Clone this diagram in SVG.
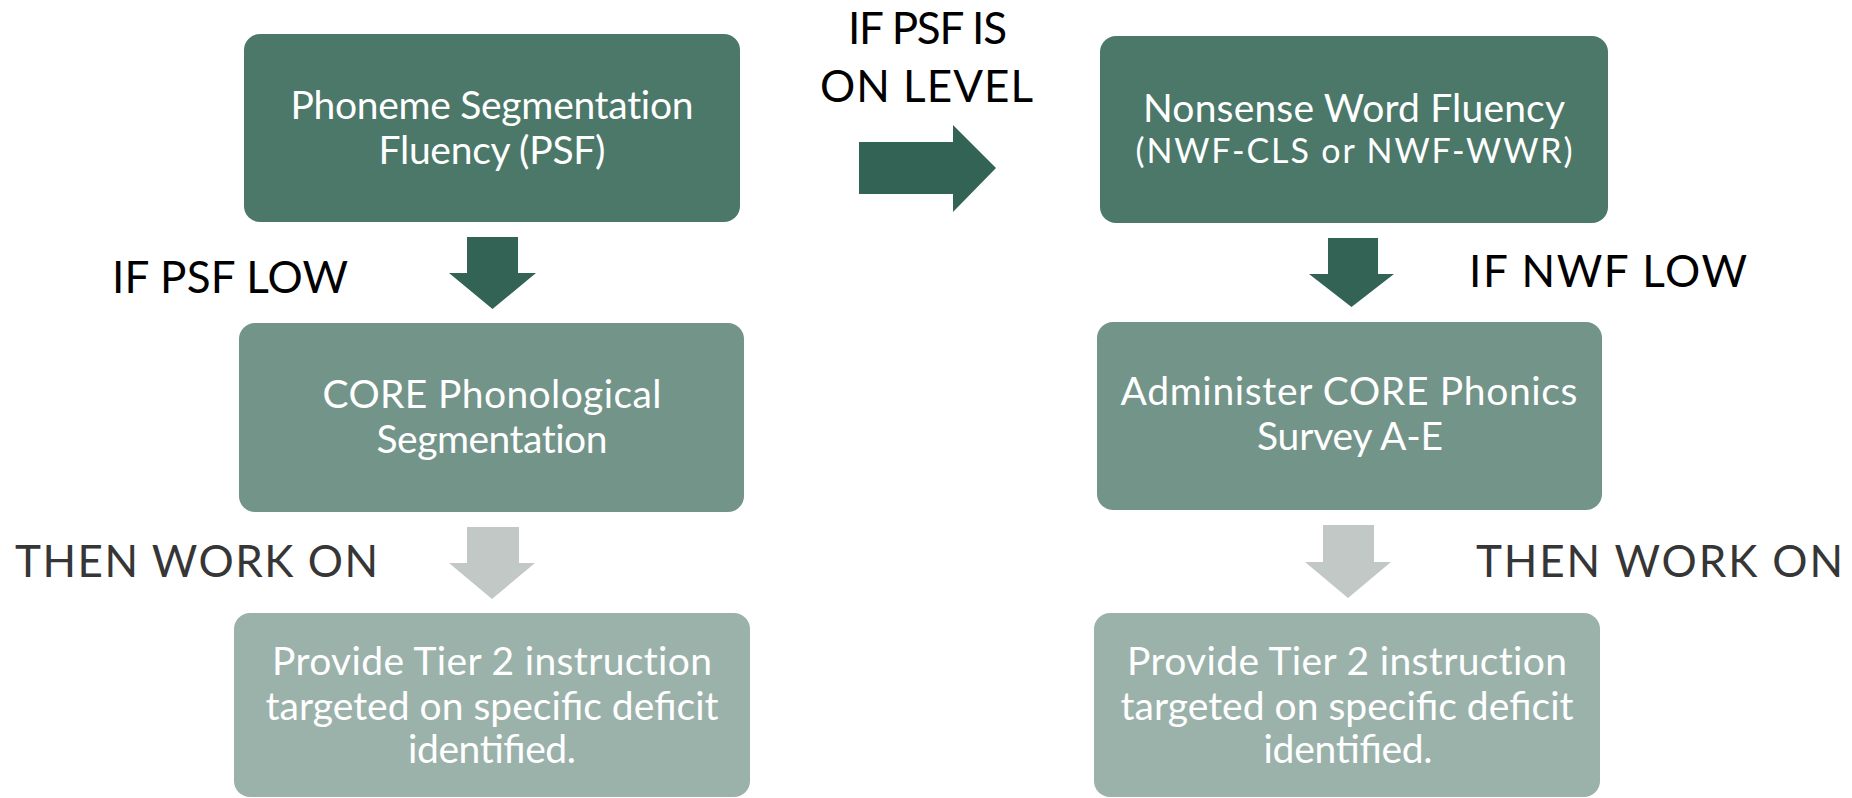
<svg xmlns="http://www.w3.org/2000/svg" width="1852" height="798" viewBox="0 0 1852 798">
<style>
.box1{fill:#4b7869}
.box2{fill:#739489}
.box3{fill:#9bb2ab}
.arrDark{fill:#336354}
.arrLight{fill:#c1c8c5}
.t{font-family:Lato,"Open Sans","Liberation Sans",sans-serif;fill:#ffffff;text-anchor:middle;font-size:39px}
.ts{font-size:34px}
.nl{font-variant-ligatures:no-common-ligatures}
.lbl{font-family:Lato,"Open Sans","Liberation Sans",sans-serif;font-size:44px;fill:#000000}
.lblg{fill:#363636}
</style>
<rect width="1852" height="798" fill="#ffffff"/>
<g id="psf">
<rect class="box1" x="244" y="34" width="496" height="188" rx="16"/>
<text class="t nl" x="492" y="119" textLength="403">Phoneme Segmentation</text>
<text class="t" x="492" y="164" textLength="227">Fluency (PSF)</text>
</g>
<g id="core-phonological">
<rect class="box2" x="239" y="323" width="505" height="189" rx="16"/>
<text class="t" x="492" y="408" textLength="339">CORE Phonological</text>
<text class="t nl" x="492" y="453" textLength="231">Segmentation</text>
</g>
<g id="tier2-left">
<rect class="box3" x="234" y="613" width="516" height="184" rx="16"/>
<text class="t nl" x="492" y="675" textLength="440">Provide Tier 2 instruction</text>
<text class="t" x="492" y="720" textLength="453">targeted on specific deficit</text>
<text class="t" x="492" y="763" textLength="168">identified.</text>
</g>
<g id="nwf">
<rect class="box1" x="1100" y="36" width="508" height="187" rx="16"/>
<text class="t" x="1354" y="122" textLength="422">Nonsense Word Fluency</text>
<text class="t ts" x="1354" y="163" textLength="437">(NWF-CLS or NWF-WWR)</text>
</g>
<g id="core-phonics">
<rect class="box2" x="1097" y="322" width="505" height="188" rx="16"/>
<text class="t" x="1349" y="405" textLength="457">Administer CORE Phonics</text>
<text class="t" x="1350" y="450" textLength="186">Survey A-E</text>
</g>
<g id="tier2-right">
<rect class="box3" x="1094" y="613" width="506" height="184" rx="16"/>
<text class="t nl" x="1347" y="675" textLength="440">Provide Tier 2 instruction</text>
<text class="t" x="1347" y="720" textLength="453">targeted on specific deficit</text>
<text class="t" x="1348" y="763" textLength="169">identified.</text>
</g>
<g id="connectors">
<polygon class="arrDark" points="859,142 953,142 953,125 996,168 953,212 953,194 859,194"/>
<polygon class="arrDark" points="467,237 518,237 518,273 536,273 492.5,309 449,273 467,273"/>
<polygon class="arrLight" points="467,527 519,527 519,563 535,563 492,599 449,563 467,563"/>
<polygon class="arrDark" points="1328,238 1378,238 1378,274 1394,274 1351.5,307 1309,274 1328,274"/>
<polygon class="arrLight" points="1323,525 1374,525 1374,562 1391,562 1348,598 1305,562 1323,562"/>
</g>
<g id="labels">
<text class="lbl" x="848" y="44" textLength="159">IF PSF IS</text>
<text class="lbl" x="820" y="102" textLength="213">ON LEVEL</text>
<text class="lbl" x="112" y="293" textLength="236">IF PSF LOW</text>
<text class="lbl" x="1469" y="287" textLength="278">IF NWF LOW</text>
<text class="lbl lblg" x="15" y="577" textLength="363">THEN WORK ON</text>
<text class="lbl lblg" x="1476" y="577" textLength="367">THEN WORK ON</text>
</g>
</svg>
